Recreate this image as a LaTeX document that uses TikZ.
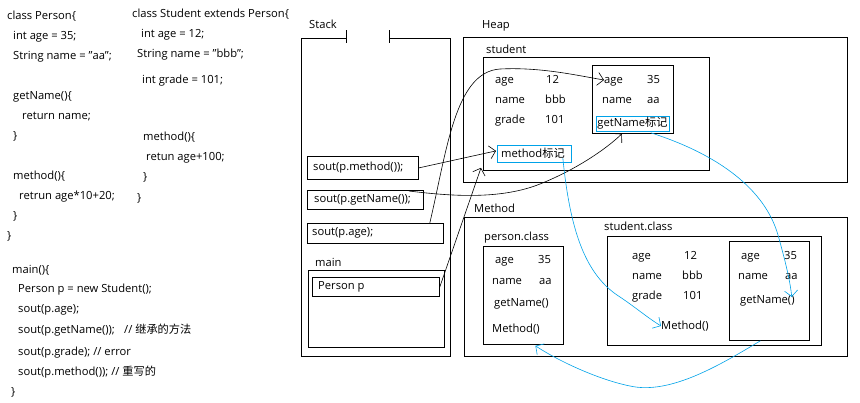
\documentclass[tikz,border=0pt]{standalone}
\usepackage{fontspec}
\setmainfont{Open Sans}
\newfontfamily\cjk{Noto Sans CJK SC}
\usetikzlibrary{arrows.meta,calc}
\definecolor{pblue}{RGB}{0,162,232}
\begin{document}
\begin{tikzpicture}[x=1pt,y=-1pt,
  font=\fontsize{11.2}{13}\selectfont,
  txt/.style={anchor=west,inner sep=0pt,text height=8pt,text depth=2pt},
  bx/.style={draw,line width=0.8pt,inner sep=0pt,anchor=north west},
  bbx/.style={draw=pblue,line width=0.8pt,inner sep=0pt,anchor=north west},
  arr/.style={line width=0.6pt,-{Straight Barb[length=6pt,width=13pt]}},
  barr/.style={arr,draw=pblue}]
\useasboundingbox (0,0) rectangle (860,402);

% ---------- code: class Person ----------
\node[txt] (a1) at (7,16) {class Person\{};
\node[txt] (a2) at (13,36) {int age = 35;};
\node[txt] (a3) at (13,56) {String name = "aa";};
\node[txt] (a4) at (13,96) {getName()\{};
\node[txt] (a5) at (22,116) {return name;};
\node[txt] (a6) at (13,136) {\}};
\node[txt] (a7) at (13,176) {method()\{};
\node[txt] (a8) at (19,196) {retrun age*10+20;};
\node[txt] (a9) at (13,216) {\}};
\node[txt] (a10) at (7,236) {\}};
% ---------- code: class Student ----------
\node[txt] (b1) at (132,14) {class Student extends Person\{};
\node[txt] (b2) at (141,34) {int age = 12;};
\node[txt] (b3) at (137,54) {String name = "bbb";};
\node[txt] (b4) at (142,80) {int grade = 101;};
\node[txt] (b5) at (143,137) {method()\{};
\node[txt] (b6) at (146,157) {retun age+100;};
\node[txt] (b7) at (143,177) {\}};
\node[txt] (b8) at (137,198) {\}};
% ---------- code: main ----------
\node[txt] (m1) at (12,270) {main()\{};
\node[txt] (m2) at (18,289) {Person p = new Student();};
\node[txt] (m3) at (18,309) {sout(p.age);};
\node[txt] (m4) at (18,330) {sout(p.getName());};
\node[txt] (m4c) at (124,330) {// \cjk{继承的方法}};
\node[txt] (m5) at (18,352) {sout(p.grade); // error};
\node[txt] (m6) at (18,372) {sout(p.method()); // \cjk{重写的}};
\node[txt] (m7) at (11,392) {\}};

% ---------- Stack ----------
\node[txt] (stacklbl) at (309,25) {Stack};
\draw[line width=0.8pt] (346,38) -- (301,38) -- (301,356) -- (450,356) -- (450,38) -- (389,38);
\draw[line width=0.8pt] (346,30) -- (346,43);
\draw[line width=0.8pt] (389,30) -- (389,43);
\node[bx,minimum width=111pt,minimum height=23pt] (pmethod) at (307,156) {};
\node[txt] (pmethodt) at (313,167) {sout(p.method());};
\node[bx,minimum width=116pt,minimum height=19pt] (pgetname) at (307,190) {};
\node[txt] (pgetnamet) at (314,199) {sout(p.getName());};
\node[bx,minimum width=136pt,minimum height=20pt] (page) at (307,223) {};
\node[txt] (paget) at (312,232) {sout(p.age);};
\node[txt] (mainlbl) at (315,263) {main};
\node[bx,minimum width=136pt,minimum height=77pt] (mainbox) at (308,270) {};
\node[bx,minimum width=127pt,minimum height=19pt] (personp) at (312,277) {};
\node[txt] (personpt) at (318,286) {Person p};

% ---------- Heap ----------
\node[txt] (heaplbl) at (482,25) {Heap};
\node[bx,minimum width=384pt,minimum height=145pt] (heap) at (463,37) {};
\node[txt] (studentlbl) at (486,50) {student};
\node[bx,minimum width=226pt,minimum height=113pt] (student) at (483,57) {};
\node[txt] (sa) at (495,80) {age};
\node[txt] (sav) at (546,80) {12};
\node[txt] (sn) at (495,100) {name};
\node[txt] (snv) at (545,100) {bbb};
\node[txt] (sg) at (495,120) {grade};
\node[txt] (sgv) at (545,120) {101};
\node[bbx,minimum width=74pt,minimum height=17pt] (methodmark) at (497,145) {};
\node[txt] (methodmarkt) at (501,154) {method\cjk{标记}};
\node[bx,minimum width=81pt,minimum height=68pt] (pbox) at (592,65) {};
\node[txt] (pba) at (604,80) {age};
\node[txt] (pbav) at (647,80) {35};
\node[txt] (pbn) at (602,100) {name};
\node[txt] (pbnv) at (647,100) {aa};
\node[bbx,minimum width=73pt,minimum height=15pt] (gnmark) at (596,116) {};
\node[inner sep=0pt,text height=8pt,text depth=2pt] (gnmarkt) at (632.5,123) {getName\cjk{标记}};

% ---------- Method area ----------
\node[txt] (methodlbl) at (474,209) {Method};
\node[bx,minimum width=383pt,minimum height=139pt] (methodarea) at (464,217) {};
\node[txt] (pclbl) at (484,237) {person.class};
\node[bx,minimum width=80pt,minimum height=98pt] (personclass) at (483,246) {};
\node[txt] (pca) at (495,260) {age};
\node[txt] (pcav) at (538,260) {35};
\node[txt] (pcn) at (492,281) {name};
\node[txt] (pcnv) at (539,281) {aa};
\node[txt] (pcg) at (494,303) {getName()};
\node[txt] (pcm) at (492,329) {Method()};
\node[txt] (sclbl) at (604,227) {student.class};
\node[bx,minimum width=214pt,minimum height=109pt] (studentclass) at (607,236) {};
\node[txt] (sca) at (632,256) {age};
\node[txt] (scav) at (684,256) {12};
\node[txt] (scn) at (632,276) {name};
\node[txt] (scnv) at (682,276) {bbb};
\node[txt] (scg) at (632,296) {grade};
\node[txt] (scgv) at (683,296) {101};
\node[txt] (scm) at (661,326) {Method()};
\node[bx,minimum width=80pt,minimum height=99pt] (scinner) at (729,241) {};
\node[txt] (scia) at (741,256) {age};
\node[txt] (sciav) at (784,256) {35};
\node[txt] (scin) at (738,276) {name};
\node[txt] (scinv) at (785,276) {aa};
\node[txt] (scig) at (740,300) {getName()};

% ---------- black connectors ----------
\draw[arr] ($(page.north east)+(-14,0)$) .. controls (447,150) and (455,72) .. (500,69)
  .. controls (540,67) and (575,75) .. (pba.west);
\draw[arr] (personp.east) -- ($(student.south west)+(-2,-3)$);
\draw[arr] (pmethod.east) -- ($(methodmark.west)+(-1,-3)$);
\draw[arr] ($(pgetname.north east)+(-15,1)$) .. controls (450,196) and (500,200) .. (540,184)
  .. controls (575,170) and (605,150) .. ($(gnmark.south)+(-11,2)$);

% ---------- blue connectors ----------
\draw[barr] ($(methodmark.south east)+(-9,-5)$) .. controls (570,230) and (585,275) .. (620,297)
  .. controls (635,307) and (648,318) .. (scm.west);
\draw[barr] ($(gnmark.south east)+(-19,1)$) .. controls (720,155) and (765,190) .. (778,235)
  .. controls (785,260) and (790,280) .. ($(scig.east)+(-3,-3)$);
\draw[barr] ($(scinner.south)+(-9,0)$) .. controls (720,365) and (670,395) .. (630,386)
  .. controls (600,380) and (560,362) .. ($(personclass.south)+(12,1)$);
\end{tikzpicture}
\end{document}
